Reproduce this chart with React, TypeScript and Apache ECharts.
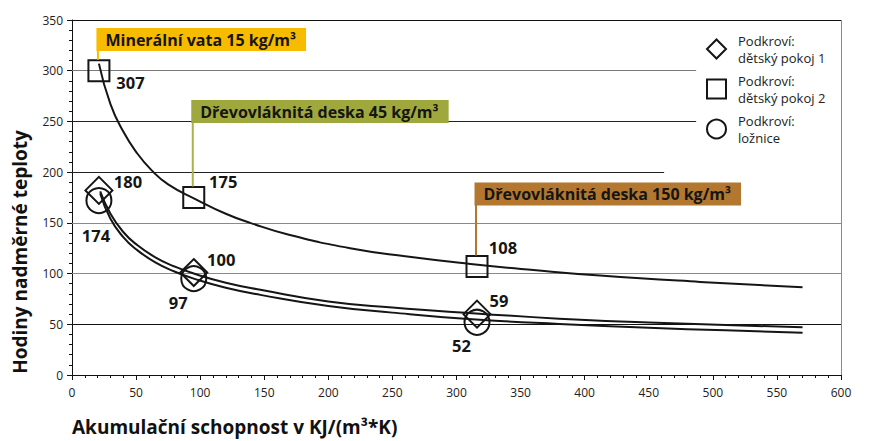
import React, { useEffect, useRef } from "react";
import * as echarts from "echarts";

// ---- data ----
const seriesNames = ["Podkroví: dětský pokoj 1", "Podkroví: dětský pokoj 2", "Podkroví: ložnice"];
const markerX = [21, 95, 316];
const pokoj1Y = [182, 101, 60];
const pokoj1Labels = ["180", "100", "59"];
const pokoj2Y = [300, 175, 107];
const pokoj2Labels = ["307", "175", "108"];
const lozniceY = [172, 95, 52];
const lozniceLabels = ["174", "97", "52"];

const trend2X = [21, 30, 40, 50, 62, 75, 97, 120, 139, 170, 217, 260, 311, 360, 412, 490, 570];
const trend2Y = [307, 267, 240, 220, 202, 188, 173, 159, 150, 138, 125, 117, 109.5, 103.5, 98, 91.8, 86.5];
const trendLowX = [22, 30, 40, 50, 65, 80, 95, 120, 147, 200, 250, 318, 380, 450, 510, 570];
const trend1Y = [181, 159, 141, 129, 116, 107, 100, 91, 84, 72.5, 66.5, 60.5, 55.5, 51.8, 49.3, 47];
const trend3Y = [179, 154, 136, 124, 111, 102, 95, 86, 79, 68, 61.5, 54.5, 50.3, 46.6, 44, 41.7];

const yGridValues = [50, 100, 150, 200, 250, 300, 350];
const annotations = ["Minerální vata 15 kg/m³", "Dřevovláknitá deska 45 kg/m³", "Dřevovláknitá deska 150 kg/m³"];

const xTitle = "Akumulační schopnost v KJ/(m³*K)";
const yTitle = "Hodiny nadměrné teploty";

// ---- styling / layout ----
const FONT = '"Open Sans", "Noto Sans", sans-serif';
const INK = "#151515";
const gridLineStyle: Record<number, { color: string; end: number }> = {
  50: { color: "#111", end: 600 },
  100: { color: "#8a8a8a", end: 600 },
  150: { color: "#8a8a8a", end: 600 },
  200: { color: "#222", end: 462 },
  250: { color: "#222", end: 487 },
  300: { color: "#7a7a7a", end: 487 },
  350: { color: "#111", end: 600 },
};
const labelOffsets = {
  p1: [[29, -9], [27.5, -13.5], [22, -14]],
  p2: [[31.5, 12], [29.5, -16.5], [26, -19]],
  lz: [[-3, 35], [-15.5, 23.5], [-15.5, 23.5]],
};
const annStyle = [
  { bg: "#F7BC00", line: "#F7BC00", top: 28 },
  { bg: "#9FA83C", line: "#A9B24A", top: 100 },
  { bg: "#B3772F", line: "#B3772F", top: 182.5 },
];

function pts(xs: number[], ys: number[]) {
  return xs.map((x, i) => [x, ys[i]]);
}

function scatterSeries(name: string, ys: number[], labels: string[], offs: number[][], symbol: string, size: number) {
  return {
    type: "scatter",
    name,
    symbol,
    symbolSize: size,
    z: 5,
    itemStyle: { color: "rgba(0,0,0,0)", borderColor: INK, borderWidth: 2, opacity: 1 },
    data: markerX.map((x, i) => ({ value: [x, ys[i]], label: { offset: offs[i] } })),
    label: {
      show: true,
      position: "inside",
      align: "center",
      verticalAlign: "middle",
      formatter: (p: any) => labels[p.dataIndex],
      fontFamily: FONT,
      fontSize: 16.5,
      fontWeight: "bold",
      color: "#151515",
    },
  };
}

function lineSeries(name: string, data: number[][], extra: any = {}) {
  return {
    type: "line",
    name,
    data,
    smooth: 0.5,
    showSymbol: false,
    symbol: "none",
    lineStyle: { color: INK, width: 2 },
    z: 3,
    silent: true,
    ...extra,
  };
}

export default function App() {
  const ref = useRef<HTMLDivElement>(null);
  useEffect(() => {
    if (!ref.current) return;
    const chart = echarts.init(ref.current, undefined, { renderer: "svg" });

    const axisCommon = {
      type: "value",
      axisLine: { show: true, lineStyle: { color: "#111", width: 1 } },
      splitLine: { show: false },
      minorTick: { show: true, splitNumber: 5, length: 3, lineStyle: { color: "#111", width: 1 } },
      axisTick: { show: true, length: 5, lineStyle: { color: "#111", width: 1 } },
    };

    const gridMarks = yGridValues.map((v) => [
      { coord: [0, v], lineStyle: { color: gridLineStyle[v].color, width: 1, type: "solid" } },
      { coord: [gridLineStyle[v].end, v] },
    ]);
    gridMarks.push([
      { coord: [600, 0], lineStyle: { color: "#8a8a8a", width: 1, type: "solid" } },
      { coord: [600, 350] },
    ] as any);

    const option: any = {
      animation: false,
      backgroundColor: "#ffffff",
      grid: { left: 72, right: 30, top: 20, bottom: 66, containLabel: false },
      xAxis: [
        {
          ...axisCommon,
          min: 0,
          max: 600,
          interval: 50,
          axisLabel: { fontFamily: FONT, fontSize: 12, color: "#222", margin: 11 },
        },
        {
          ...axisCommon,
          min: 0,
          max: 600,
          interval: 50,
          axisLine: { show: false },
          axisLabel: { show: false },
          axisTick: { show: true, inside: true, length: 3, lineStyle: { color: "#111", width: 1 } },
        },
      ],
      yAxis: [
        {
          ...axisCommon,
          min: 0,
          max: 350,
          interval: 50,
          axisLabel: { fontFamily: FONT, fontSize: 12, color: "#222", margin: 9 },
        },
        {
          ...axisCommon,
          min: 0,
          max: 350,
          interval: 50,
          axisLine: { show: false },
          axisLabel: { show: false },
          axisTick: { show: true, inside: true, length: 3, lineStyle: { color: "#111", width: 1 } },
        },
      ],
      legend: {
        data: seriesNames,
        orient: "vertical",
        left: 701,
        top: 27,
        itemWidth: 19,
        itemHeight: 19,
        itemGap: 6,
        itemStyle: { color: "rgba(0,0,0,0)", borderColor: INK, borderWidth: 2, opacity: 1 },
        formatter: (n: string) => n.replace(": ", ":\n"),
        textStyle: { fontFamily: FONT, fontSize: 13, lineHeight: 17, color: "#222", padding: [0, 0, 0, 7] },
      },
      series: [
        lineSeries("trend pokoj 2", pts(trend2X, trend2Y), {
          markLine: {
            silent: true,
            symbol: ["none", "none"],
            label: { show: false },
            data: gridMarks,
            z: 1,
          },
        }),
        lineSeries("trend pokoj 1", pts(trendLowX, trend1Y)),
        lineSeries("trend ložnice", pts(trendLowX, trend3Y)),
        scatterSeries(seriesNames[0], pokoj1Y, pokoj1Labels, labelOffsets.p1, "diamond", 27),
        scatterSeries(seriesNames[1], pokoj2Y, pokoj2Labels, labelOffsets.p2, "rect", 21),
        scatterSeries(seriesNames[2], lozniceY, lozniceLabels, labelOffsets.lz, "circle", 25),
      ],
    };
    chart.setOption(option);

    const graphics: any[] = [];
    annotations.forEach((text, i) => {
      const [px, py] = chart.convertToPixel({ xAxisIndex: 0, yAxisIndex: 0 }, [markerX[i], pokoj2Y[i]]) as number[];
      const st = annStyle[i];
      const boxH = 23;
      graphics.push({
        type: "line",
        z: 10,
        shape: { x1: px - 1, y1: st.top + boxH - 1, x2: px - 1, y2: py - 11 },
        style: { stroke: st.line, lineWidth: 2 },
      });
      graphics.push({
        type: "text",
        z: 11,
        x: px - 2.5,
        y: st.top,
        style: {
          text,
          fill: "#151515",
          fontFamily: FONT,
          fontSize: 16,
          fontWeight: "bold",
          lineHeight: 17,
          backgroundColor: st.bg,
          padding: [3, 10, 3, 9],
          verticalAlign: "top",
          align: "left",
        },
      });
    });
    graphics.push({
      type: "text",
      x: 20,
      y: 252,
      rotation: Math.PI / 2,
      style: {
        text: yTitle,
        fill: "#111",
        fontFamily: FONT,
        fontSize: 19,
        fontWeight: "bold",
        align: "center",
        verticalAlign: "middle",
      },
    });
    graphics.push({
      type: "text",
      x: 72,
      y: 427,
      style: {
        text: xTitle,
        fill: "#111",
        fontFamily: FONT,
        fontSize: 19,
        fontWeight: "bold",
        align: "left",
        verticalAlign: "middle",
      },
    });
    chart.setOption({ graphic: graphics });

    return () => chart.dispose();
  }, []);

  return (
    <div
      ref={ref}
      style={{ position: "fixed", left: 0, top: 0, width: 871, height: 441, background: "#fff" }}
    />
  );
}
